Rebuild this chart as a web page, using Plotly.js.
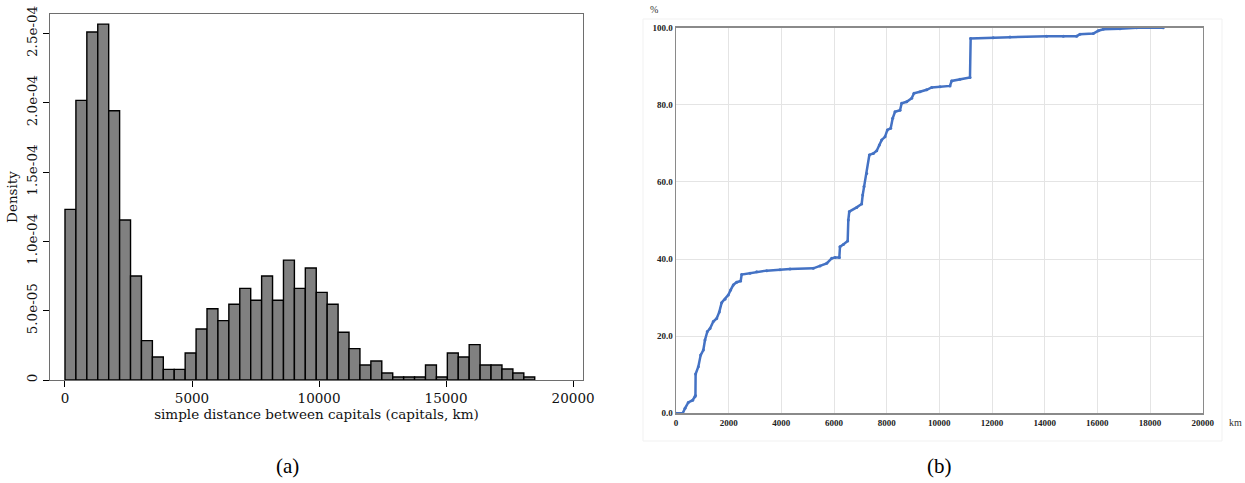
<!DOCTYPE html>
<html>
<head>
<meta charset="utf-8">
<script src="https://cdn.plot.ly/plotly-3.0.1.min.js"></script>
<style>html,body{margin:0;padding:0;background:#fff;}#chart{width:1245px;height:483px;}</style>
</head>
<body>
<div id="chart"></div>
<script>
// ---- Panel (a): histogram of distances (density) ----
const binStart = 0;
const binWidth = 430;
const density = [1.231e-4, 2.017e-4, 2.510e-4, 2.567e-4, 1.942e-4, 1.154e-4, 0.750e-4, 0.284e-4, 0.166e-4, 0.077e-4,
  0.077e-4, 0.195e-4, 0.368e-4, 0.514e-4, 0.428e-4, 0.546e-4, 0.661e-4, 0.575e-4, 0.750e-4, 0.575e-4,
  0.865e-4, 0.661e-4, 0.808e-4, 0.632e-4, 0.546e-4, 0.344e-4, 0.226e-4, 0.108e-4, 0.137e-4, 0.050e-4,
  0.022e-4, 0.022e-4, 0.022e-4, 0.108e-4, 0.022e-4, 0.195e-4, 0.166e-4, 0.255e-4, 0.108e-4, 0.108e-4,
  0.079e-4, 0.050e-4, 0.022e-4];
const histXTicks = [0, 5000, 10000, 15000, 20000];
const histYTicks = [0, 5e-5, 1e-4, 1.5e-4, 2e-4, 2.5e-4];
const histYTickText = ["0", "5.0e-05", "1.0e-04", "1.5e-04", "2.0e-04", "2.5e-04"];

// ---- Panel (b): cumulative distribution (%) ----
const cdfKm = [0,255,342,468,633,721,738,745,848,937,
  1038,1101,1190,1291,1417,1544,1645,1734,1861,1987,
  2076,2177,2304,2456,2494,2810,3063,3443,3949,4329,
  5214,5468,5722,5912,6037,6202,6227,6353,6519,6543,
  6580,6861,7051,7089,7139,7241,7342,7494,7621,7722,
  7811,7937,8026,8152,8228,8317,8506,8570,8760,8950,
  9037,9265,9519,9709,10025,10404,10468,10784,11163,11189,
  12048,12682,14075,14707,15214,15340,15846,16036,16225,16858,
  17491,18503];
const cdfPct = [0,0,1.3,2.8,3.4,4.3,4.6,10.2,12.1,15.1,
  16.4,19.0,21.2,22.0,23.8,24.6,26.3,28.7,29.6,30.7,
  32.0,33.3,34.0,34.3,36.0,36.3,36.7,37.0,37.2,37.4,
  37.6,38.2,38.9,40.2,40.4,40.4,43.2,43.8,44.7,50.1,
  52.3,53.4,54.3,56.6,58.8,62.2,67.0,67.4,68.1,69.6,
  70.9,71.7,73.5,73.9,76.5,78.2,78.6,80.4,80.8,81.7,
  83.0,83.4,83.9,84.5,84.7,84.9,86.2,86.6,87.1,97.2,
  97.4,97.6,97.8,97.8,97.8,98.3,98.5,99.2,99.6,99.7,
  100,100];
const cdfXTicks = [0,2000,4000,6000,8000,10000,12000,14000,16000,18000,20000];
const cdfYTicks = [0,20,40,60,80,100];

const W = 1245, H = 483;
const px = v => v / W;
const py = v => 1 - v / H;

const binCenters = density.map((d, i) => binStart + (i + 0.5) * binWidth);

const serifA = "DejaVu Serif, serif";
const serifB = "Liberation Serif, Times New Roman, serif";

const traces = [
  {
    type: "bar", x: binCenters, y: density, width: binWidth,
    marker: {color: "#808080", line: {color: "#000000", width: 1.4}},
    xaxis: "x", yaxis: "y", hoverinfo: "skip", showlegend: false
  },
  {
    type: "scatter", mode: "lines+markers", x: cdfKm, y: cdfPct,
    line: {color: "#4472C4", width: 2.5},
    marker: {color: "#4472C4", size: 3},
    xaxis: "x2", yaxis: "y2", hoverinfo: "skip", showlegend: false
  }
];

const layout = {
  width: W, height: H,
  margin: {l: 0, r: 0, t: 0, b: 0},
  paper_bgcolor: "#ffffff", plot_bgcolor: "#ffffff",
  showlegend: false,
  xaxis: {
    domain: [px(50), px(583)], anchor: "y",
    range: [-590, 20390],
    tickvals: histXTicks, tickformat: "d",
    ticks: "outside", ticklen: 6, tickwidth: 1, tickcolor: "#000",
    showgrid: false, zeroline: false,
    showline: true, linecolor: "#6e6e6e", linewidth: 1.2, mirror: true,
    tickfont: {family: serifA, size: 13.5, color: "#111"},
    title: {text: "simple distance between capitals (capitals, km)", font: {family: serifA, size: 13.5, color: "#111"}, standoff: 1}
  },
  yaxis: {
    domain: [py(380), py(14)], anchor: "x",
    range: [0, 2.64e-4],
    tickvals: histYTicks, ticktext: histYTickText, tickangle: -90,
    ticks: "outside", ticklen: 6, tickwidth: 1, tickcolor: "#000",
    showgrid: false, zeroline: false,
    showline: true, linecolor: "#6e6e6e", linewidth: 1.2, mirror: true,
    tickfont: {family: serifA, size: 13.5, color: "#111"},
    title: {text: "Density", font: {family: serifA, size: 13.5, color: "#111"}, standoff: 3}
  },
  xaxis2: {
    domain: [px(676), px(1202.7)], anchor: "y2",
    range: [0, 20000],
    tickvals: cdfXTicks, tickformat: "d",
    ticks: "", showgrid: true, gridcolor: "#e4e4e4", gridwidth: 1, zeroline: false,
    showline: true, linecolor: "#8a8a8a", linewidth: 1.5, mirror: true,
    tickfont: {family: serifB, size: 9, color: "#222", weight: "bold"}
  },
  yaxis2: {
    domain: [py(413.3), py(27.7)], anchor: "x2",
    range: [0, 100],
    tickvals: cdfYTicks, tickformat: ".1f",
    ticks: "", showgrid: true, gridcolor: "#e4e4e4", gridwidth: 1, zeroline: false,
    showline: true, linecolor: "#8a8a8a", linewidth: 1.5, mirror: true,
    tickfont: {family: serifB, size: 9, color: "#222", weight: "bold"}
  },
  shapes: [
    {type: "rect", xref: "paper", yref: "paper", x0: px(643), x1: px(1222), y0: py(441), y1: py(19),
     line: {color: "#f1f1f1", width: 1}, fillcolor: "rgba(0,0,0,0)", layer: "below"}
  ],
  annotations: [
    {text: "%", xref: "paper", yref: "paper", x: px(654), y: py(10), showarrow: false,
     font: {family: serifB, size: 10, color: "#333"}, xanchor: "center", yanchor: "middle"},
    {text: "km", xref: "paper", yref: "paper", x: px(1235), y: py(422), showarrow: false,
     font: {family: serifB, size: 10, color: "#333"}, xanchor: "center", yanchor: "middle"},
    {text: "(a)", xref: "paper", yref: "paper", x: px(287), y: py(466), showarrow: false,
     font: {family: serifB, size: 21, color: "#000"}, xanchor: "center", yanchor: "middle"},
    {text: "(b)", xref: "paper", yref: "paper", x: px(940), y: py(466), showarrow: false,
     font: {family: serifB, size: 21, color: "#000"}, xanchor: "center", yanchor: "middle"}
  ]
};

Plotly.newPlot("chart", traces, layout, {staticPlot: true, displayModeBar: false});
</script>
</body>
</html>
